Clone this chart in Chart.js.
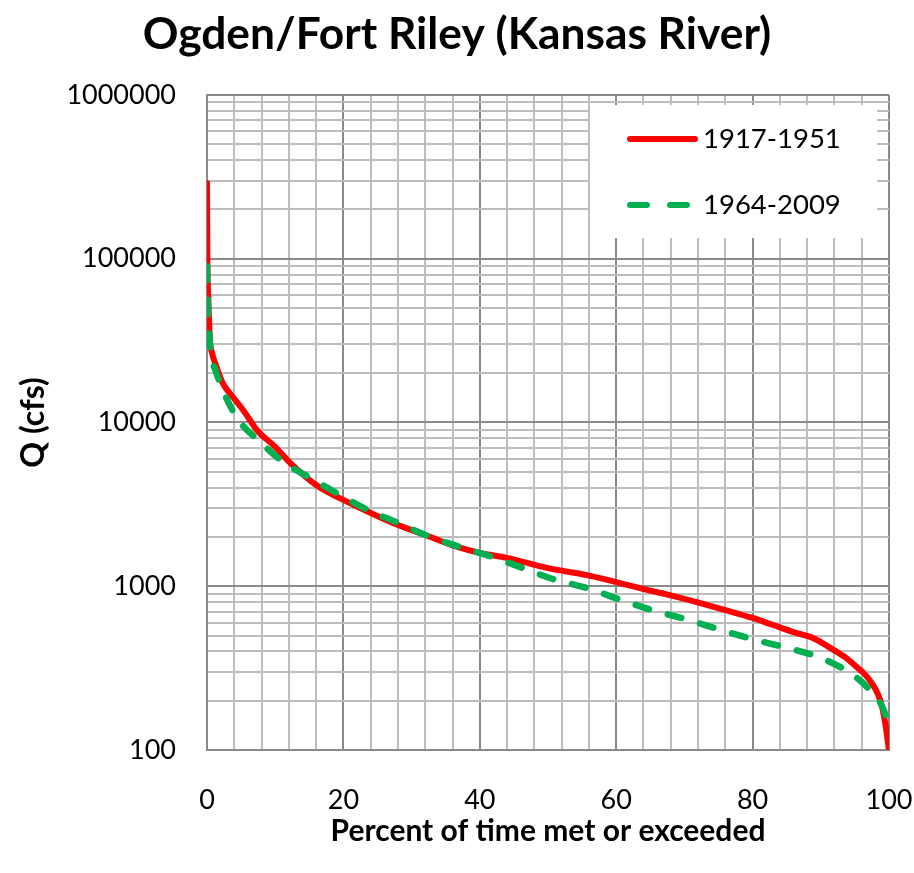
<!DOCTYPE html>
<html><head><meta charset="utf-8">
<script src="https://cdn.jsdelivr.net/npm/chart.js@4.4.1/dist/chart.umd.min.js"></script>
<style>html,body{margin:0;padding:0;background:#fff}#wrap{width:914px;height:873px}</style>
</head><body><div id="wrap"><canvas id="c" width="914" height="873"></canvas></div>
<script>
// ---- data ----
const chartTitle = 'Ogden/Fort Riley (Kansas River)';
const xAxisTitle = 'Percent of time met or exceeded';
const yAxisTitle = 'Q (cfs)';
const seriesNames = ['1917-1951', '1964-2009'];

const redPct = [0, 0.05, 0.2, 0.45, 0.75, 1.2, 2.3, 3.8, 5.5, 7.3, 10, 12.2, 16, 20, 24, 28, 32, 36.7, 40, 44, 50, 55.7, 60, 64.5, 68, 71.8, 76, 80, 83, 86, 89, 91.8, 93.5, 95.3, 96.8, 98.7, 99.4, 100];
const redQ   = [290000, 110000, 56000, 31500, 26500, 23000, 17400, 14300, 11600, 9000, 7100, 5660, 4150, 3365, 2800, 2365, 2055, 1740, 1600, 1490, 1290, 1170, 1060, 950, 880, 800, 715, 640, 580, 525, 480, 410, 370, 320, 279, 202, 150, 100];

const greenPct = [0, 0.08, 0.2, 0.35, 0.7, 1.3, 2.3, 4.5, 7.8, 11.2, 15.4, 19.5, 23.6, 28, 32.4, 37.1, 41.8, 46.3, 50.7, 55.7, 60.3, 65.2, 70.1, 74.9, 79.9, 84.5, 89.6, 93.8, 97.2, 99.4, 100];
const greenQ   = [90000, 60000, 42000, 33000, 24800, 20500, 15800, 10500, 7600, 5740, 4520, 3610, 2920, 2435, 2027, 1738, 1510, 1292, 1107, 975, 836, 716, 631, 548, 476, 426, 370, 304, 232, 168, 132];

const xLabelValues = [0, 20, 40, 60, 80, 100];
const xMinorStep = 4;
const yLabelValues = [100, 1000, 10000, 100000, 1000000];
const yMinorMultipliers = [1, 2, 3, 4, 5, 6, 7, 8, 9];

// ---- styles ----
const MAJOR = '#8a8a8a', MINOR = '#bdbdbd';
Chart.defaults.font.family = 'Lato';
Chart.defaults.color = '#000';

const xTicks = [];
for (let v = xLabelValues[0]; v <= xLabelValues[xLabelValues.length - 1]; v += xMinorStep) xTicks.push(v);
const yTicks = [];
for (let i = 0; i < yLabelValues.length - 1; i++) yMinorMultipliers.forEach(m => yTicks.push(yLabelValues[i] * m));
yTicks.push(yLabelValues[yLabelValues.length - 1]);

const legendPlugin = {
  id: 'boxLegend',
  afterDatasetsDraw(chart) {
    const ctx = chart.ctx, a = chart.chartArea;
    const bx = a.left + 383, by = a.top + 10, bw = 287, bh = 133;
    ctx.save();
    ctx.fillStyle = '#fff';
    ctx.fillRect(bx, by, bw, bh);
    chart.data.datasets.forEach((ds, i) => {
      const y = by + 34 + i * 66;
      ctx.beginPath();
      ctx.strokeStyle = ds.borderColor;
      ctx.lineWidth = 6;
      ctx.lineCap = 'round';
      ctx.setLineDash(i === 1 ? [17, 23] : []);
      ctx.moveTo(bx + 40, y);
      ctx.lineTo(bx + (i === 1 ? 97 : 105), y);
      ctx.stroke();
      ctx.setLineDash([]);
      ctx.fillStyle = '#000';
      ctx.font = '27.5px Lato';
      ctx.textBaseline = 'middle';
      ctx.textAlign = 'left';
      ctx.fillText(ds.label, bx + 113, y);
    });
    ctx.restore();
  }
};

new Chart(document.getElementById('c'), {
  type: 'line',
  data: {
    datasets: [
      {
        label: seriesNames[0],
        data: redPct.map((p, i) => ({x: p, y: redQ[i]})),
        borderColor: '#ff0000', borderWidth: 6, pointRadius: 0,
        cubicInterpolationMode: 'monotone', borderCapStyle: 'round', borderJoinStyle: 'round',
        fill: false, order: 1
      },
      {
        label: seriesNames[1],
        data: greenPct.map((p, i) => ({x: p, y: greenQ[i]})),
        borderColor: '#00b050', borderWidth: 6.5, pointRadius: 0, borderDash: [14, 19.5],
        cubicInterpolationMode: 'monotone', borderCapStyle: 'round', borderJoinStyle: 'round',
        fill: false, order: 0
      }
    ]
  },
  options: {
    responsive: false, animation: false, devicePixelRatio: 1,
    layout: {padding: {left: 0, right: 0, top: 0, bottom: 0}},
    plugins: {
      legend: {display: false},
      tooltip: {enabled: false},
      title: {
        display: true, text: chartTitle,
        font: {size: 44.3, weight: 'bold', family: 'Lato', lineHeight: 1.2},
        padding: {top: 8.4, bottom: 33.4}, color: '#000'
      }
    },
    scales: {
      x: {
        type: 'linear', min: 0, max: 100,
        afterBuildTicks: s => { s.ticks = xTicks.map(v => ({value: v})); },
        afterFit: s => { s.height = 123; s.paddingLeft = 0; s.paddingRight = 25; },
        ticks: {
          autoSkip: false, maxRotation: 0, padding: 34,
          font: {size: 27}, color: '#000',
          callback: v => xLabelValues.includes(v) ? String(v) : ''
        },
        grid: {
          drawTicks: false, lineWidth: 2,
          color: c => (c.tick && xLabelValues.includes(c.tick.value)) ? MAJOR : MINOR
        },
        border: {display: true, color: MAJOR, width: 2},
        title: {
          display: true, text: xAxisTitle,
          font: {size: 30, weight: 'bold', lineHeight: 1.2},
          padding: {top: 0, bottom: 24}, color: '#000'
        }
      },
      y: {
        type: 'logarithmic', min: 100, max: 1000000,
        afterBuildTicks: s => { s.ticks = yTicks.map(v => ({value: v})); },
        afterFit: s => { s.width = 207; s.paddingTop = 0; s.paddingBottom = 0; },
        ticks: {
          autoSkip: false, padding: 31,
          font: {size: 27}, color: '#000',
          callback: v => yLabelValues.includes(v) ? String(v) : ''
        },
        grid: {
          drawTicks: false, lineWidth: 2,
          color: c => (c.tick && yLabelValues.includes(c.tick.value)) ? MAJOR : MINOR
        },
        border: {display: true, color: MAJOR, width: 2},
        title: {
          display: true, text: yAxisTitle,
          font: {size: 32, weight: 'bold', lineHeight: 1.2},
          padding: {top: 14, bottom: 0}, color: '#000'
        }
      }
    }
  },
  plugins: [legendPlugin]
});
</script>
</body></html>
